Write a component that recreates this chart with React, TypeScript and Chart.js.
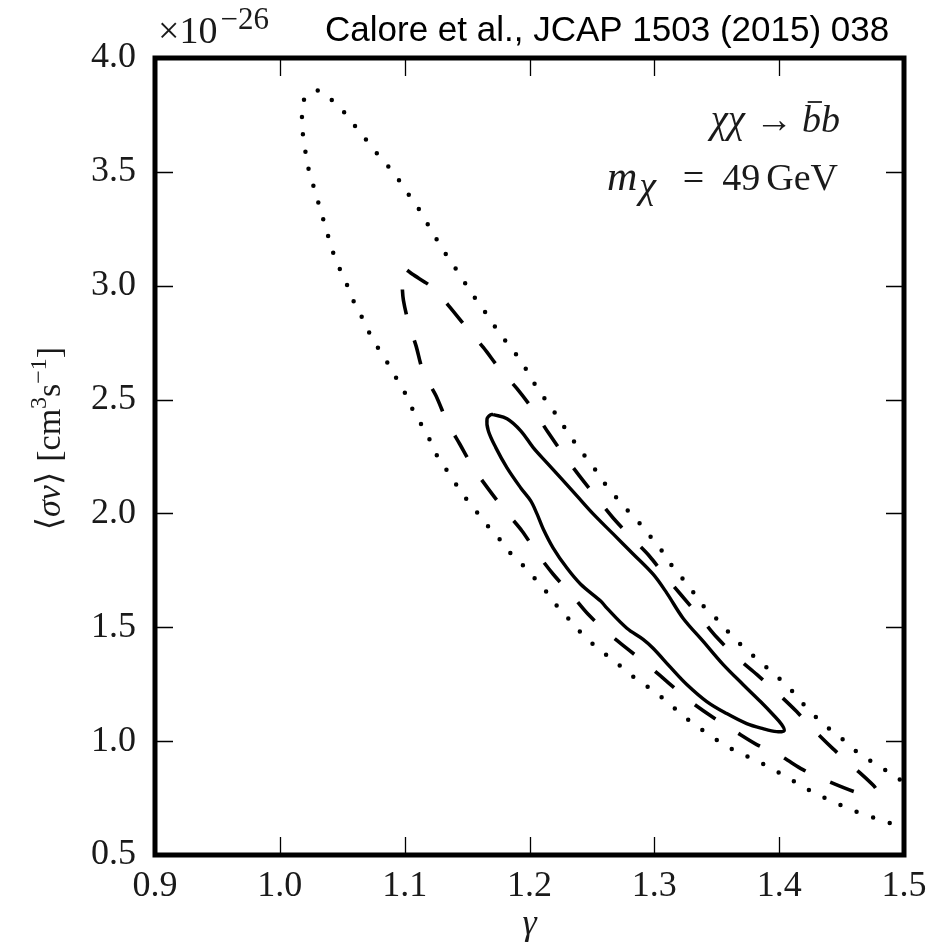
import { useEffect, useRef } from "react";
import { Chart, registerables } from "chart.js";

Chart.register(...registerables);

// Axis ticks
const GAMMA_TICKS = [0.9, 1.0, 1.1, 1.2, 1.3, 1.4, 1.5];
const SIGMA_TICKS = [0.5, 1.0, 1.5, 2.0, 2.5, 3.0, 3.5, 4.0];

// Innermost confidence contour (solid), traced clockwise from the top tip
const solidGamma = [
  1.171, 1.182, 1.193, 1.203, 1.214, 1.225, 1.238, 1.251, 1.267, 1.283, 1.299,
  1.310, 1.323, 1.339, 1.355, 1.371, 1.385, 1.395, 1.402, 1.404, 1.398, 1.387,
  1.374, 1.358, 1.342, 1.326, 1.313, 1.299, 1.291, 1.278, 1.262, 1.257, 1.241,
  1.230, 1.219, 1.211, 1.206, 1.201, 1.193, 1.182, 1.173, 1.167, 1.166, 1.169,
  1.171,
];
const solidSigma = [
  2.434, 2.416, 2.363, 2.289, 2.222, 2.156, 2.077, 1.998, 1.910, 1.822, 1.733,
  1.650, 1.540, 1.439, 1.337, 1.249, 1.174, 1.117, 1.073, 1.046, 1.042, 1.055,
  1.077, 1.121, 1.174, 1.249, 1.324, 1.408, 1.447, 1.496, 1.584, 1.615, 1.689,
  1.760, 1.848, 1.932, 1.998, 2.055, 2.112, 2.200, 2.289, 2.363, 2.416, 2.434,
  2.434,
];

// Middle contour (dashed)
const dashedGamma = [
  1.102, 1.106, 1.122, 1.135, 1.150, 1.163, 1.177, 1.190, 1.204, 1.215, 1.228,
  1.240, 1.254, 1.267, 1.282, 1.296, 1.310, 1.321, 1.338, 1.350, 1.367, 1.382,
  1.399, 1.414, 1.429, 1.443, 1.461, 1.475, 1.478, 1.471, 1.463, 1.440, 1.419,
  1.402, 1.382, 1.365, 1.346, 1.329, 1.312, 1.296, 1.279, 1.263, 1.247, 1.234,
  1.219, 1.206, 1.194, 1.180, 1.167, 1.155, 1.144, 1.134, 1.125, 1.115, 1.109,
  1.103, 1.099, 1.098, 1.098, 1.102,
];
const dashedSigma = [
  3.068, 3.051, 2.993, 2.914, 2.813, 2.729, 2.628, 2.548, 2.447, 2.355, 2.253,
  2.165, 2.068, 1.980, 1.892, 1.813, 1.716, 1.645, 1.535, 1.456, 1.363, 1.293,
  1.209, 1.130, 1.042, 0.967, 0.879, 0.808, 0.782, 0.769, 0.773, 0.822, 0.875,
  0.932, 0.985, 1.042, 1.108, 1.174, 1.253, 1.328, 1.403, 1.474, 1.557, 1.641,
  1.733, 1.826, 1.923, 2.015, 2.108, 2.200, 2.306, 2.403, 2.518, 2.619, 2.738,
  2.839, 2.936, 3.002, 3.051, 3.068,
];

// Outer contour (dotted), open towards large gamma
const dottedGamma = [
  1.530, 1.496, 1.483, 1.470, 1.458, 1.444, 1.431, 1.418, 1.406, 1.394, 1.382,
  1.368, 1.356, 1.344, 1.332, 1.321, 1.310, 1.299, 1.287, 1.276, 1.265, 1.254,
  1.243, 1.234, 1.224, 1.215, 1.206, 1.197, 1.186, 1.178, 1.168, 1.159, 1.150,
  1.142, 1.134, 1.126, 1.120, 1.113, 1.106, 1.100, 1.093, 1.086, 1.078, 1.071,
  1.065, 1.058, 1.053, 1.047, 1.042, 1.038, 1.034, 1.030, 1.026, 1.022, 1.020,
  1.018, 1.018, 1.021, 1.033, 1.043, 1.054, 1.062, 1.071, 1.080, 1.090, 1.098,
  1.106, 1.114, 1.121, 1.128, 1.136, 1.144, 1.152, 1.160, 1.168, 1.176, 1.185,
  1.194, 1.201, 1.208, 1.217, 1.225, 1.233, 1.241, 1.250, 1.258, 1.267, 1.276,
  1.286, 1.295, 1.304, 1.312, 1.321, 1.330, 1.338, 1.348, 1.358, 1.368, 1.378,
  1.389, 1.400, 1.410, 1.419, 1.430, 1.440, 1.451, 1.462, 1.474, 1.486, 1.497,
  1.530,
];
const dottedSigma = [
  0.600, 0.631, 0.649, 0.676, 0.698, 0.733, 0.764, 0.804, 0.843, 0.879, 0.914,
  0.949, 0.984, 1.028, 1.073, 1.121, 1.174, 1.223, 1.267, 1.315, 1.364, 1.412,
  1.465, 1.522, 1.580, 1.646, 1.703, 1.760, 1.817, 1.874, 1.936, 1.998, 2.059,
  2.121, 2.187, 2.253, 2.324, 2.394, 2.461, 2.531, 2.597, 2.663, 2.733, 2.800,
  2.870, 2.945, 3.015, 3.086, 3.156, 3.231, 3.306, 3.381, 3.456, 3.535, 3.610,
  3.689, 3.769, 3.835, 3.857, 3.808, 3.747, 3.689, 3.628, 3.566, 3.504, 3.443,
  3.377, 3.315, 3.245, 3.183, 3.112, 3.051, 2.980, 2.919, 2.857, 2.791, 2.729,
  2.663, 2.597, 2.535, 2.469, 2.403, 2.337, 2.275, 2.214, 2.148, 2.086, 2.029,
  1.971, 1.910, 1.852, 1.786, 1.725, 1.663, 1.601, 1.548, 1.487, 1.430, 1.381,
  1.328, 1.275, 1.222, 1.165, 1.103, 1.055, 1.007, 0.954, 0.910, 0.870, 0.830,
  0.740,
];

const TITLE = "Calore et al., JCAP 1503 (2015) 038";

const SERIF = '"Liberation Serif", "DejaVu Serif", serif';
const SANS = '"Liberation Sans", Arial, sans-serif';
const INK = "#1a1a1a";

type Seg = { t: string; f: string; dy?: number; gap?: number; bar?: boolean };

// Draws a run of differently styled text pieces on one baseline.
function drawRich(
  ctx: CanvasRenderingContext2D,
  segs: Seg[],
  x: number,
  y: number,
  align: "left" | "right" | "center"
) {
  const widths = segs.map((s) => {
    ctx.font = s.f;
    return ctx.measureText(s.t).width;
  });
  const total = widths.reduce((a, b, i) => a + b + (segs[i].gap || 0), 0);
  let cx = align === "left" ? x : align === "right" ? x - total : x - total / 2;
  ctx.textAlign = "left";
  ctx.textBaseline = "alphabetic";
  segs.forEach((s, i) => {
    ctx.font = s.f;
    ctx.fillText(s.t, cx, y + (s.dy || 0));
    if (s.bar) {
      const by = y + (s.dy || 0) - 30;
      ctx.save();
      ctx.lineWidth = 1.6;
      ctx.beginPath();
      ctx.moveTo(cx + widths[i] * 0.3, by);
      ctx.lineTo(cx + widths[i] * 1.05, by);
      ctx.stroke();
      ctx.restore();
    }
    cx += widths[i] + (s.gap || 0);
  });
}

const frameAndText = {
  id: "frameAndText",
  afterDraw(chart: any) {
    const { ctx, chartArea: a, scales } = chart;
    const xs = scales.x;
    const ys = scales.y;
    const L = 18;
    ctx.save();
    ctx.strokeStyle = "#000";
    ctx.fillStyle = INK;

    // inward tick marks on all four sides
    ctx.lineWidth = 1.3;
    ctx.beginPath();
    xs.ticks.forEach((t: any) => {
      const px = Math.round(xs.getPixelForValue(t.value)) + 0.5;
      ctx.moveTo(px, a.bottom);
      ctx.lineTo(px, a.bottom - L);
      ctx.moveTo(px, a.top);
      ctx.lineTo(px, a.top + L);
    });
    ys.ticks.forEach((t: any) => {
      const py = Math.round(ys.getPixelForValue(t.value)) + 0.5;
      ctx.moveTo(a.left, py);
      ctx.lineTo(a.left + L, py);
      ctx.moveTo(a.right, py);
      ctx.lineTo(a.right - L, py);
    });
    ctx.stroke();

    // heavy frame
    ctx.lineWidth = 5;
    ctx.strokeRect(a.left, a.top, a.right - a.left, a.bottom - a.top);

    // scale multiplier
    drawRich(
      ctx,
      [
        { t: "×10", f: `38px ${SERIF}`, gap: 3 },
        { t: "−26", f: `31px ${SERIF}`, dy: -14 },
      ],
      a.left + 3,
      a.top - 15,
      "left"
    );

    // citation
    ctx.fillStyle = "#000";
    ctx.font = `35px ${SANS}`;
    ctx.textAlign = "left";
    ctx.textBaseline = "alphabetic";
    ctx.fillText(TITLE, 325, 41);
    ctx.fillStyle = INK;

    // channel and mass annotation
    drawRich(
      ctx,
      [
        { t: "χχ", f: `italic 39px ${SERIF}`, gap: 10 },
        { t: "→", f: `38px ${SERIF}`, gap: 9 },
        { t: "b", f: `italic 38px ${SERIF}`, bar: true },
        { t: "b", f: `italic 38px ${SERIF}` },
      ],
      840,
      132,
      "right"
    );
    drawRich(
      ctx,
      [
        { t: "m", f: `italic 42px ${SERIF}`, gap: 2 },
        { t: "χ", f: `italic 38px ${SERIF}`, dy: 8 },
      ],
      607,
      190,
      "left"
    );
    drawRich(
      ctx,
      [
        { t: "=", f: `38px ${SERIF}`, gap: 18 },
        { t: "49", f: `38px ${SERIF}`, gap: 6 },
        { t: "GeV", f: `38px ${SERIF}` },
      ],
      838,
      190,
      "right"
    );

    // x-axis title
    drawRich(
      ctx,
      [{ t: "γ", f: `italic 36px ${SERIF}` }],
      (a.left + a.right) / 2,
      934,
      "center"
    );

    // y-axis title, rotated
    ctx.save();
    ctx.translate(60, (a.top + a.bottom) / 2 - 18);
    ctx.rotate(-Math.PI / 2);
    drawRich(
      ctx,
      [
        { t: "⟨", f: `34px ${SERIF}` },
        { t: "σv", f: `italic 34px ${SERIF}` },
        { t: "⟩", f: `34px ${SERIF}`, gap: 10 },
        { t: "[cm", f: `34px ${SERIF}` },
        { t: "3", f: `24px ${SERIF}`, dy: -14 },
        { t: "s", f: `34px ${SERIF}` },
        { t: "−1", f: `24px ${SERIF}`, dy: -14 },
        { t: "]", f: `34px ${SERIF}` },
      ],
      0,
      0,
      "center"
    );
    ctx.restore();

    ctx.restore();
  },
};

function pts(xs: number[], ys: number[]) {
  return xs.map((x, i) => ({ x, y: ys[i] }));
}

export default function App() {
  const ref = useRef<HTMLCanvasElement | null>(null);

  useEffect(() => {
    document.body.style.margin = "0";
    const canvas = ref.current;
    if (!canvas) return;

    const tickFont = { family: SERIF, size: 36 };

    const chart = new Chart(canvas, {
      type: "scatter",
      data: {
        datasets: [
          {
            label: "dotted",
            data: pts(dottedGamma, dottedSigma),
            showLine: true,
            pointRadius: 0,
            borderColor: "#000",
            borderWidth: 4.5,
            borderDash: [0, 17.5],
            borderCapStyle: "round",
            tension: 0.3,
            fill: false,
          },
          {
            label: "dashed",
            data: pts(dashedGamma, dashedSigma),
            showLine: true,
            pointRadius: 0,
            borderColor: "#000",
            borderWidth: 3.6,
            borderDash: [25, 27],
            borderCapStyle: "butt",
            tension: 0.3,
            fill: false,
          },
          {
            label: "solid",
            data: pts(solidGamma, solidSigma),
            showLine: true,
            pointRadius: 0,
            borderColor: "#000",
            borderWidth: 3.4,
            borderJoinStyle: "round",
            tension: 0.35,
            fill: false,
          },
        ] as any,
      },
      options: {
        animation: false,
        responsive: true,
        maintainAspectRatio: false,
        events: [],
        layout: { padding: { top: 58, right: 47, bottom: 0, left: 0 } },
        plugins: {
          legend: { display: false },
          tooltip: { enabled: false },
          title: { display: false },
        },
        scales: {
          x: {
            type: "linear",
            min: 0.9,
            max: 1.5,
            grid: { display: false, drawTicks: false },
            border: { display: false },
            afterBuildTicks: (s: any) => {
              s.ticks = GAMMA_TICKS.map((v) => ({ value: v }));
            },
            afterFit: (s: any) => {
              s.height = 88;
            },
            ticks: {
              font: tickFont,
              color: INK,
              padding: 10,
              maxRotation: 0,
              autoSkip: false,
              callback: (v: any) => Number(v).toFixed(1),
            },
          },
          y: {
            type: "linear",
            min: 0.5,
            max: 4.0,
            grid: { display: false, drawTicks: false },
            border: { display: false },
            afterBuildTicks: (s: any) => {
              s.ticks = SIGMA_TICKS.map((v) => ({ value: v }));
            },
            afterFit: (s: any) => {
              s.width = 155;
            },
            ticks: {
              font: tickFont,
              color: INK,
              padding: 19,
              autoSkip: false,
              callback: (v: any) => Number(v).toFixed(1),
            },
          },
        },
      } as any,
      plugins: [frameAndText],
    });

    return () => chart.destroy();
  }, []);

  return (
    <div style={{ position: "relative", width: 951, height: 943 }}>
      <canvas ref={ref} />
    </div>
  );
}
